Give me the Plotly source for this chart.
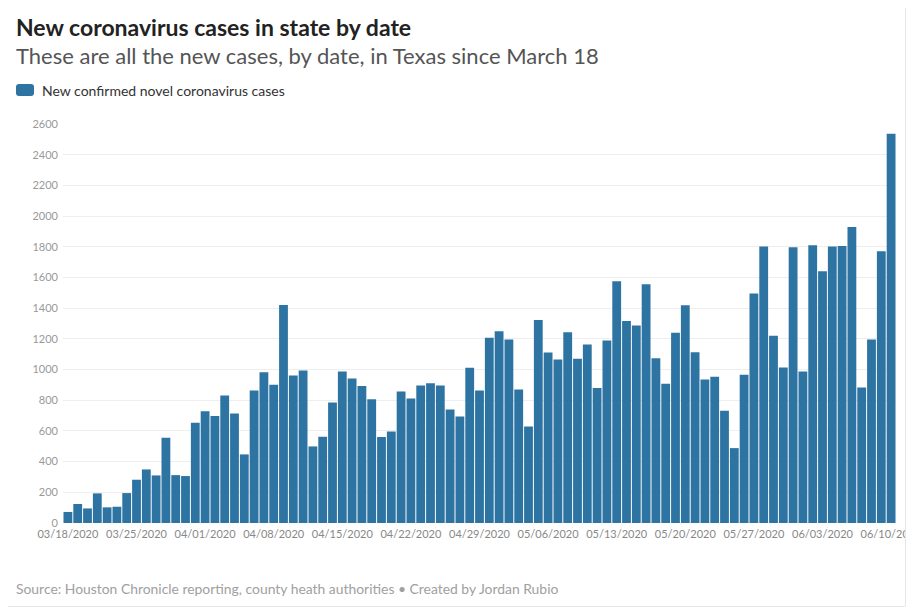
import plotly.graph_objects as go
import pandas as pd

start_date = "2020-03-18"
end_date = "2020-06-10"
dates = pd.date_range(start_date, end_date, freq="D")

new_cases = [
    72, 124, 95, 193, 102, 106, 195, 282, 349, 310, 556, 312, 306, 653,
    729, 697, 831, 714, 447, 864, 983, 901, 1421, 961, 994, 499, 562, 786,
    987, 942, 892, 807, 560, 597, 857, 812, 896, 911, 896, 740, 694, 1011,
    864, 1207, 1250, 1196, 870, 629, 1322, 1111, 1065, 1243, 1070, 1163, 879, 1189,
    1575, 1317, 1287, 1556, 1074, 907, 1239, 1419, 1113, 935, 953, 731, 488, 966,
    1495, 1801, 1220, 1013, 1797, 987, 1810, 1641, 1801, 1805, 1929, 883, 1196, 1771,
    2537,
]

y_ticks = [0, 200, 400, 600, 800, 1000, 1200, 1400, 1600, 1800, 2000, 2200, 2400, 2600]

title_text = "New coronavirus cases in state by date"
subtitle_text = "These are all the new cases, by date, in Texas since March 18"
legend_text = "New confirmed novel coronavirus cases"
source_text = "Source: Houston Chronicle reporting, county heath authorities • Created by Jordan Rubio"

bar_color = "#2e74a2"
font_family = "Lato, 'Open Sans', sans-serif"

# the page body adds an 8px offset; work in page pixels and subtract it
OFF = 8
W, H = 920 - OFF, 609 - OFF
plot_left, plot_right, plot_top, plot_bottom = 63, 896, 124, 523
ml = plot_left - OFF
mr = W - (plot_right - OFF)
mt = plot_top - OFF
mb = H - (plot_bottom - OFF)

fig = go.Figure()
fig.add_trace(go.Bar(
    x=dates, y=new_cases, marker_color=bar_color, marker_line_width=0,
    showlegend=False, name=legend_text,
))

pw = W - ml - mr
ph = H - mt - mb

def px_x(p):
    return (p - OFF - ml) / pw

def px_y(p):
    return 1 - (p - OFF - mt) / ph

annotations = [
    dict(text=f"<b>{title_text}</b>", x=px_x(14), y=px_y(27), xref="paper", yref="paper",
         xanchor="left", yanchor="middle", showarrow=False,
         font=dict(family=font_family, size=23, color="#222222")),
    dict(text=subtitle_text, x=px_x(14), y=px_y(55), xref="paper", yref="paper",
         xanchor="left", yanchor="middle", showarrow=False,
         font=dict(family=font_family, size=22, color="#555555")),
    dict(text=legend_text, x=px_x(40), y=px_y(90), xref="paper", yref="paper",
         xanchor="left", yanchor="middle", showarrow=False,
         font=dict(family=font_family, size=14, color="#333333")),
    dict(text=source_text, x=px_x(14), y=px_y(588), xref="paper", yref="paper",
         xanchor="left", yanchor="middle", showarrow=False,
         font=dict(family=font_family, size=13.9, color="#a0a0a0")),
]

# rounded legend swatch
x0, x1, y0, y1, r = 16, 34, 84, 96, 3
path = (
    f"M {px_x(x0 + r)},{px_y(y0)} L {px_x(x1 - r)},{px_y(y0)} "
    f"Q {px_x(x1)},{px_y(y0)} {px_x(x1)},{px_y(y0 + r)} "
    f"L {px_x(x1)},{px_y(y1 - r)} Q {px_x(x1)},{px_y(y1)} {px_x(x1 - r)},{px_y(y1)} "
    f"L {px_x(x0 + r)},{px_y(y1)} Q {px_x(x0)},{px_y(y1)} {px_x(x0)},{px_y(y1 - r)} "
    f"L {px_x(x0)},{px_y(y0 + r)} Q {px_x(x0)},{px_y(y0)} {px_x(x0 + r)},{px_y(y0)} Z"
)
shapes = [
    dict(type="path", xref="paper", yref="paper", path=path,
         fillcolor=bar_color, line_width=0),
    # embed frame: white strip past the right border, then faint border lines
    dict(type="rect", xref="paper", yref="paper", layer="above",
         x0=px_x(906), x1=px_x(925), y0=px_y(0), y1=px_y(615),
         fillcolor="white", line_width=0),
    dict(type="line", xref="paper", yref="paper", layer="above",
         x0=px_x(905.5), x1=px_x(905.5), y0=px_y(0), y1=px_y(606),
         line=dict(color="#e6e6e6", width=1)),
    dict(type="line", xref="paper", yref="paper", layer="above",
         x0=px_x(0), x1=px_x(905.5), y0=px_y(606.5), y1=px_y(606.5),
         line=dict(color="#e6e6e6", width=1)),
]

fig.update_layout(
    width=W, height=H,
    margin=dict(l=ml, r=mr, t=mt, b=mb, autoexpand=False),
    paper_bgcolor="white", plot_bgcolor="white",
    bargap=0.1,
    annotations=annotations,
    shapes=shapes,
    font=dict(family=font_family),
    xaxis=dict(
        type="date",
        range=[pd.Timestamp(start_date) - pd.Timedelta(hours=12),
               pd.Timestamp(end_date) + pd.Timedelta(hours=12)],
        tick0=start_date, dtick=7 * 24 * 3600 * 1000,
        tickformat="%m/%d/%Y",
        tickfont=dict(size=11, color="#888888"),
        showgrid=False, zeroline=False, showline=False,
        ticks="", ticklabelstandoff=3,
        ticklabeloverflow="allow",
        automargin=False,
    ),
    yaxis=dict(
        range=[0, 2600],
        tickvals=y_ticks,
        ticktext=[str(v) for v in y_ticks],
        tickfont=dict(size=11, color="#999999"),
        showgrid=True, gridcolor="#eeeeee", gridwidth=1,
        zeroline=False, showline=False, ticks="",
        ticklabelstandoff=4,
        automargin=False,
    ),
)

fig.write_html("out.html")
